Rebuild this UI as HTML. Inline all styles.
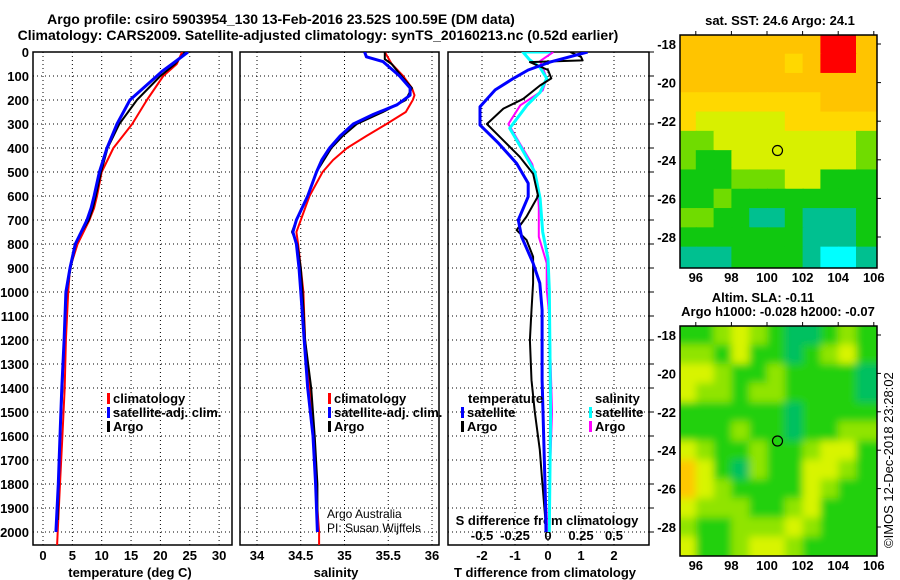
<!DOCTYPE html>
<html><head><meta charset="utf-8"><style>
body{margin:0;background:#fff;}
svg{display:block;font-family:"Liberation Sans",sans-serif;font-weight:bold;}
</style></head><body>
<svg id="s" width="900" height="580" viewBox="0 0 900 580" xmlns="http://www.w3.org/2000/svg">
<defs>
<clipPath id="c1"><rect x="33" y="52" width="199" height="493"/></clipPath>
<clipPath id="c2"><rect x="240" y="52" width="199" height="493"/></clipPath>
<clipPath id="c3"><rect x="448" y="52" width="201" height="493"/></clipPath>
<clipPath id="cm1"><rect x="680" y="35" width="197" height="233"/></clipPath>
<clipPath id="cm2"><rect x="680" y="326" width="197" height="230"/></clipPath>
<filter id="blur" x="-5%" y="-5%" width="110%" height="110%"><feGaussianBlur stdDeviation="4"/></filter>
</defs>
<text x="281" y="24" font-size="14" text-anchor="middle">Argo profile: csiro 5903954_130 13-Feb-2016 23.52S 100.59E (DM data)</text>
<text x="318" y="40" font-size="14" text-anchor="middle">Climatology: CARS2009. Satellite-adjusted climatology: synTS_20160213.nc (0.52d earlier)</text>
<g id="g"></g>
</svg>
<script>
// ---- temperature panel data ----
const tClimDepth=[0,50,100,200,300,400,500,600,650,700,750,800,900,1000,1200,1400,1600,1800,2000,2054];
const tClim=[23.7,22.8,20.5,17.7,15.2,12,10,9.2,8.7,7.9,6.9,5.9,4.6,4.3,3.9,3.7,3.3,2.9,2.5,2.4];
const tSatDepth=[0,50,80,100,200,300,400,500,600,650,700,750,800,900,1000,1200,1400,1600,1800,2000];
const tSat=[24.7,22,20.3,19.4,14.8,12.6,10.9,9.6,8.7,8.2,7.5,6.5,5.5,4.6,3.9,3.6,3.2,2.9,2.6,2.2];
const tArgoDepth=[0,50,100,200,300,400,500,600,650,700,750,800,900,1000,1200,1400,1600,1800,1950];
const tArgo=[24.2,22.5,20,16,13,11,9.9,9,8.5,7.8,6.6,5.6,4.7,4,3.6,3.3,2.9,2.7,2.5];
// ---- salinity panel data ----
const sClimDepth=[0,50,100,150,180,200,250,300,350,400,450,500,600,700,750,800,900,1000,1200,1400,1600,1800,2000,2054];
const sClim=[35.46,35.54,35.67,35.77,35.8,35.78,35.7,35.48,35.25,35.03,34.87,34.75,34.6,34.5,34.45,34.47,34.5,34.53,34.55,34.6,34.65,34.67,34.71,34.71];
const sSatDepth=[0,20,40,100,150,180,220,260,300,350,400,450,500,600,700,750,800,900,1000,1200,1400,1600,1800,2000];
const sSat=[35.23,35.25,35.44,35.63,35.75,35.75,35.6,35.33,35.1,34.95,34.83,34.74,34.68,34.58,34.45,34.41,34.45,34.48,34.5,34.54,34.58,34.64,34.67,34.69];
const sArgoDepth=[0,30,50,100,150,200,250,300,350,400,500,600,700,750,800,900,1000,1200,1400,1600,1800,1950];
const sArgo=[35.46,35.46,35.54,35.65,35.77,35.7,35.44,35.14,34.98,34.85,34.68,34.58,34.45,34.4,34.46,34.5,34.52,34.55,34.62,34.66,34.69,34.69];
// ---- difference panel data ----
const dTSatDepth=[0,42,75,110,158,228,304,380,464,547,603,700,770,880,963,1075,1367,1500,1908,2000];
const dTSat=[1.2,0.06,-0.6,-1.05,-1.6,-2.06,-2.06,-1.5,-0.95,-0.6,-0.6,-0.9,-0.8,-0.45,-0.25,-0.18,-0.18,-0.15,-0.07,-0.06];
const dTArgoDepth=[0,20,35,42,75,110,140,195,236,300,355,438,507,600,686,742,783,853,963,1075,1200,1367,1500,1658,1783,1950];
const dTArgo=[0.67,1.0,1.05,-0.55,0,0.1,-0.25,-0.75,-1.35,-1.85,-1.45,-0.85,-0.45,-0.3,-0.65,-0.95,-0.65,-0.45,-0.45,-0.5,-0.55,-0.5,-0.4,-0.25,-0.18,-0.08];
const dSArgoDepth=[0,38,65,110,160,222,300,384,467,550,647,770,880,990,1100,1500,2000];
const dSArgo=[0.04,-0.06,-0.04,-0.01,-0.04,-0.21,-0.3,-0.21,-0.12,-0.08,-0.07,-0.07,-0.01,-0.01,0.01,0.03,0.0];
const dSSatDepth=[0,0,32,65,110,168,222,318,402,500,610,750,860,990,1500,2000];
const dSSat=[0.02,-0.19,-0.14,-0.06,-0.01,-0.06,-0.16,-0.29,-0.2,-0.1,-0.06,-0.04,0,0.01,0.02,0.01];
// ---- map data (lat rows -18..-29, lon cols 95..105) ----
const sstGrid=[
[6,6,6,6,6,6,6,6,7,7,6],[6,6,6,6,6,6,5,6,7,7,6],[6,6,6,6,6,6,6,6,6,6,6],[5,5,5,5,5,5,5,5,6,6,6],
[5,4,4,4,4,4,5,5,5,5,5],[3,3,4,4,4,4,4,4,4,4,3],[3,2,2,4,4,4,4,4,4,4,3],[2,2,2,3,3,3,4,4,2,2,2],
[2,2,3,2,2,2,2,2,2,2,2],[3,3,2,2,1,1,2,1,1,1,2],[2,2,2,2,2,2,2,1,1,1,2],[1,1,1,2,2,2,2,1,0,0,1]];
const slaGrid=[
[2,2,3,4,3,2,1,1,2,3,2],[3,3,2,4,2,2,1,2,3,4,2],[4,4,3,2,2,3,2,2,2,2,1],[4,3,3,2,3,3,2,2,2,2,1],
[2,2,2,2,2,2,1,2,2,2,2],[2,2,2,3,2,2,1,2,2,3,3],[4,3,2,2,3,2,2,3,4,4,2],[5,4,2,1,3,2,2,4,4,3,2],
[5,4,3,2,2,2,2,4,3,2,2],[4,3,3,3,2,2,3,4,2,2,2],[3,2,2,3,3,3,4,3,2,2,2],[4,2,2,3,4,4,3,2,2,2,2]];
const depthTicks=[0,100,200,300,400,500,600,700,800,900,1000,1100,1200,1300,1400,1500,1600,1700,1800,1900,2000];
const tTicks=[0,5,10,15,20,25,30];
const sTicks=[34,34.5,35,35.5,36];
const dTTicks=[-2,-1,0,1,2];
const dSTicks=[-0.5,-0.25,0,0.25,0.5];
const dSTickLabels=["-0.5","-0.25","0","0.25","0.5"];
const latTicks=[-18,-20,-22,-24,-26,-28];
const lonTicks=[96,98,100,102,104,106];
const argoLon=100.59, argoLat=-23.52;

const NS="http://www.w3.org/2000/svg";
const G=document.getElementById('g');
function el(tag,attrs,parent){const e=document.createElementNS(NS,tag);for(const k in attrs)e.setAttribute(k,attrs[k]);(parent||G).appendChild(e);return e;}
const yD=d=>52+0.24*d;
const xT=t=>43+5.87*t;
const xS=s=>257+87.5*(s-34);
const xDT=d=>548+33*d;
const xDS=d=>548+132*d;

function panel(x0,w,name){
  const r=el('rect',{x:x0,y:52,width:w,height:493,fill:'none',stroke:'#000','stroke-width':1.5});
  
  
  depthTicks.forEach(d=>{const l=el('line',{x1:x0,x2:x0+w,y1:yD(d),y2:yD(d),stroke:'#000','stroke-dasharray':'1,3','stroke-width':1});
    
    });
}
function vgrid(ticks,fx,name){ticks.forEach(t=>{const l=el('line',{x1:fx(t),x2:fx(t),y1:52,y2:545,stroke:'#000','stroke-dasharray':'1,3','stroke-width':1});
  
  });}
function line(ds,vs,fx,color,w,clip,name){
  const pts=ds.map((d,i)=>fx(vs[i]).toFixed(1)+','+yD(d).toFixed(1)).join(' ');
  const p=el('polyline',{points:pts,fill:'none',stroke:color,'stroke-width':w,'clip-path':'url(#'+clip+')','stroke-linejoin':'round'});
  
  
}
function text(x,y,s,opts,name){const t=el('text',Object.assign({x:x,y:y,'font-size':13},opts||{}));t.textContent=s;
  
  return t;}

panel(33,199,'temperature-panel');panel(240,199,'salinity-panel');panel(448,201,'difference-panel');
vgrid(tTicks,xT,'temperature-grid');vgrid(sTicks,xS,'salinity-grid');vgrid(dTTicks,xDT,'difference-grid');
depthTicks.forEach(d=>{text(29,yD(d)+5,String(d),{'text-anchor':'end'},'depth-tick-label');
  const tk=el('line',{x1:649,x2:654,y1:yD(d),y2:yD(d),stroke:'#000'});
  
  });
tTicks.forEach(t=>text(xT(t),560,String(t),{'text-anchor':'middle'},'temperature-tick-label'));
sTicks.forEach(t=>text(xS(t),560,String(t),{'text-anchor':'middle'},'salinity-tick-label'));
dTTicks.forEach(t=>text(xDT(t),560,String(t),{'text-anchor':'middle'},'t-diff-tick-label'));
dSTicks.forEach((t,i)=>text(xDS(t),540,dSTickLabels[i],{'text-anchor':'middle'},'s-diff-tick-label'));
text(130,577,'temperature (deg C)',{'text-anchor':'middle'},'temperature-axis-title');
text(336,577,'salinity',{'text-anchor':'middle'},'salinity-axis-title');
text(545,577,'T difference from climatology',{'text-anchor':'middle'},'t-diff-axis-title');
text(547,525,'S difference from climatology',{'text-anchor':'middle'},'s-diff-axis-title');

line(tClimDepth,tClim,xT,'#f00',2,'c1','temperature-climatology-line');
line(tArgoDepth,tArgo,xT,'#000',2,'c1','temperature-argo-line');
line(tSatDepth,tSat,xT,'#00f',3,'c1','temperature-satellite-line');
line(sClimDepth,sClim,xS,'#f00',2,'c2','salinity-climatology-line');
line(sArgoDepth,sArgo,xS,'#000',2,'c2','salinity-argo-line');
line(sSatDepth,sSat,xS,'#00f',3,'c2','salinity-satellite-line');
line(dSArgoDepth,dSArgo,xDS,'#f0f',2,'c3','s-diff-argo-line');
line(dSSatDepth,dSSat,xDS,'#0ff',3,'c3','s-diff-satellite-line');
line(dTArgoDepth,dTArgo,xDT,'#000',2,'c3','t-diff-argo-line');
line(dTSatDepth,dTSat,xDT,'#00f',3,'c3','t-diff-satellite-line');

function legend(x,y,color,label){
  const m=el('rect',{x:x,y:y-10,width:3,height:11,fill:color});
  
  
  text(x+6,y,label,{},'legend-entry');
}
legend(107,403,'#f00','climatology');legend(107,417,'#00f','satellite-adj. clim.');legend(107,431,'#000','Argo');
legend(328,403,'#f00','climatology');legend(328,417,'#00f','satellite-adj. clim.');legend(328,431,'#000','Argo');
text(468,403,'temperature',{},'legend-temperature-heading');
legend(461,417,'#00f','satellite');legend(461,431,'#000','Argo');
text(595,403,'salinity',{},'legend-salinity-heading');
legend(589,417,'#0ff','satellite');legend(589,431,'#f0f','Argo');
text(327,518,'Argo Australia',{'font-weight':'normal','font-size':12},'credit-argo-australia');
text(327,532,'PI: Susan Wijffels',{'font-weight':'normal','font-size':12},'credit-pi');

// maps
const sstColors=['#00ffff','#00c090','#10c810','#70dc00','#d8f000','#ffd800','#ffc400','#ff0000'];
const slaColors=['#00a878','#00c060','#20d010','#90e400','#d8f400','#ffc800'];
function map(grid,colors,top,bottom,clip,name,blur){
  const pxLon=17.8, lon0=678;
  const lat18=top.lat18, pxLat=top.pxLat;
  const xL=lon=>lon0+(lon-95)*pxLon;
  const yL=lat=>lat18+(-18-lat)*pxLat;
  const grp=el('g',{'clip-path':'url(#'+clip+')'});
  
  
  const inner=el('g',blur?{filter:'url(#blur)'}:{},grp);
  grid.forEach((row,i)=>row.forEach((v,j)=>{
    const c=el('rect',{x:xL(95+j)-(j==0?20:0),y:yL(-17.5-i)-(i==0?20:0),width:pxLon+1+(j==0?20:0)+(j==row.length-1?30:0),height:pxLat+1+(i==0?20:0)+(i==grid.length-1?30:0),fill:colors[v]},inner);
    
    
  }));
  const b=el('rect',{x:680,y:top.y0,width:197,height:bottom-top.y0,fill:'none',stroke:'#000','stroke-width':1.5});
  
  
  latTicks.forEach(l=>{text(676,yL(l)+5,String(l),{'text-anchor':'end'},'lat-tick-label');
    const t=el('line',{x1:877,x2:881,y1:yL(l),y2:yL(l),stroke:'#000'});
    
    });
  lonTicks.forEach(l=>{text(xL(l),bottom+14,String(l),{'text-anchor':'middle'},'lon-tick-label');
    const t=el('line',{x1:xL(l),x2:xL(l),y1:top.y0-4,y2:top.y0,stroke:'#000'});
    
    });
  const c=el('circle',{cx:xL(argoLon),cy:yL(argoLat),r:5,fill:'none',stroke:'#000','stroke-width':1.2});
  
  
}
map(sstGrid,sstColors,{y0:35,lat18:44,pxLat:19.3},268,'cm1','sst-map',false);
map(slaGrid,slaColors,{y0:326,lat18:335,pxLat:19.2},556,'cm2','sla-map',true);
text(780,25,'sat. SST: 24.6 Argo: 24.1',{'text-anchor':'middle'},'sst-map-title');
text(763,302,'Altim. SLA: -0.11',{'text-anchor':'middle'},'sla-map-title');
text(778,316,'Argo h1000: -0.028 h2000: -0.07',{'text-anchor':'middle'},'sla-map-subtitle');
const im=text(0,0,'©IMOS 12-Dec-2018 23:28:02',{'font-weight':'normal','font-size':13,transform:'translate(893,548) rotate(-90)'},'imos-timestamp');
</script>
</body></html>
